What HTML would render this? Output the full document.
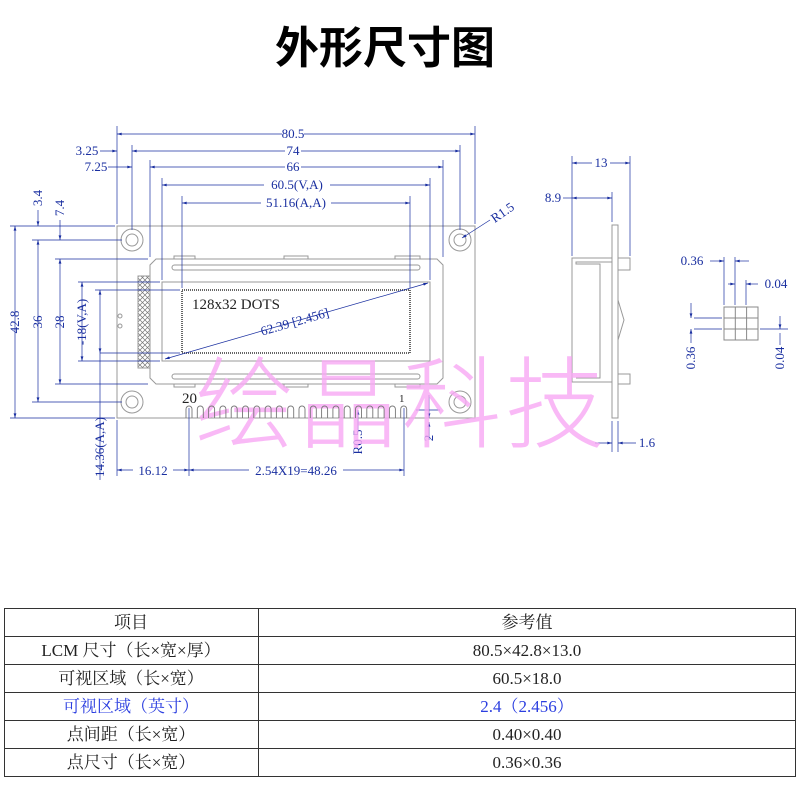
<!DOCTYPE html>
<html><head><meta charset="utf-8"><style>
html,body{margin:0;padding:0;background:#fff;}
svg{display:block;}
.d{font-family:"Liberation Serif",serif;font-size:13px;fill:#1a2fa0;}
.t{font-family:"Liberation Serif","Noto Serif CJK SC",serif;font-size:17px;fill:#222;}
</style></head><body>
<svg width="800" height="800" viewBox="0 0 800 800" xmlns="http://www.w3.org/2000/svg">
<defs>
<marker id="a" viewBox="0 0 10 6" refX="10" refY="3" markerWidth="8" markerHeight="4" orient="auto-start-reverse"><path d="M0,0 L10,3 L0,6z" fill="#1a2fa0"/></marker>
<pattern id="h" width="5" height="5" patternUnits="userSpaceOnUse"><path d="M0,0L5,5M5,0L0,5" stroke="#777" stroke-width="0.7"/></pattern>
</defs>
<text x="385" y="63" text-anchor="middle" font-family="'Noto Sans CJK SC',sans-serif" font-size="44" font-weight="700" fill="#000">外形尺寸图</text>

<g fill="none" stroke="#999" stroke-width="1">
<rect x="117" y="226" width="358" height="192"/>
<path d="M156,259 H437 L443,265 V378 L437,384 H156 L150,378 V265 Z"/>
<rect x="172" y="265" width="248" height="5" rx="2.5"/>
<rect x="172" y="374" width="248" height="5" rx="2.5"/>
<rect x="162" y="282" width="268" height="79"/>
<rect x="182" y="290" width="228" height="63" stroke="#666" stroke-width="2" stroke-dasharray="1 1"/>
<rect x="138" y="276" width="12" height="92" fill="url(#h)"/>
<circle cx="120" cy="316" r="2"/><circle cx="120" cy="326" r="2"/>
<circle cx="132" cy="240" r="11"/><circle cx="132" cy="240" r="6"/>
<circle cx="460" cy="240" r="11"/><circle cx="460" cy="240" r="6"/>
<circle cx="132" cy="402" r="11"/><circle cx="132" cy="402" r="6"/>
<circle cx="460" cy="402" r="11"/><circle cx="460" cy="402" r="6"/>
<path d="M174,259 V256 H195 V259 M284,259 V256 H308 V259 M395,259 V256 H420 V259"/>
<path d="M174,384 V387 H195 V384 M284,384 V387 H308 V384 M395,384 V387 H420 V384"/>
</g>
<text x="182" y="403" font-family="Liberation Serif,serif" font-size="15" fill="#222">20</text>
<text x="399" y="402" font-family="Liberation Serif,serif" font-size="11" fill="#222">1</text>
<text x="192" y="309" font-family="Liberation Serif,serif" font-size="15" fill="#222">128x32 DOTS</text>

<g stroke="#1a2fa0" stroke-width="0.7" fill="none">
<path d="M117,126V224 M475,126V224 M132,145V230 M460,145V230 M150,160V257 M443,160V257 M162,178V280 M430,178V280 M182,196V288 M410,196V288"/>
<path d="M10,226H115 M32,240H122 M55,259H148 M78,282H160 M95,290H180 M78,361H160 M10,418H115 M32,402H122 M55,384H148"/>
<path d="M117,420V476 M189,408V476 M404,408V476 M100,353H180 M416,410H440"/>
<line x1="117" y1="134" x2="475" y2="134" marker-start="url(#a)" marker-end="url(#a)"/>
<line x1="132" y1="151" x2="460" y2="151" marker-start="url(#a)" marker-end="url(#a)"/>
<line x1="100" y1="151" x2="117" y2="151" marker-end="url(#a)"/>
<line x1="150" y1="167" x2="443" y2="167" marker-start="url(#a)" marker-end="url(#a)"/>
<line x1="108" y1="167" x2="132" y2="167" marker-end="url(#a)"/>
<line x1="162" y1="185" x2="430" y2="185" marker-start="url(#a)" marker-end="url(#a)"/>
<line x1="182" y1="203" x2="410" y2="203" marker-start="url(#a)" marker-end="url(#a)"/>
<line x1="117" y1="470" x2="189" y2="470" marker-start="url(#a)" marker-end="url(#a)"/>
<line x1="189" y1="470" x2="404" y2="470" marker-start="url(#a)" marker-end="url(#a)"/>
<line x1="15" y1="226" x2="15" y2="418" marker-start="url(#a)" marker-end="url(#a)"/>
<line x1="38" y1="240" x2="38" y2="402" marker-start="url(#a)" marker-end="url(#a)"/>
<line x1="38" y1="210" x2="38" y2="226" marker-end="url(#a)"/>
<line x1="60" y1="259" x2="60" y2="384" marker-start="url(#a)" marker-end="url(#a)"/>
<line x1="60" y1="220" x2="60" y2="240" marker-end="url(#a)"/>
<line x1="82" y1="282" x2="82" y2="361" marker-start="url(#a)" marker-end="url(#a)"/>
<line x1="100" y1="290" x2="100" y2="353" marker-start="url(#a)" marker-end="url(#a)"/>
<line x1="100" y1="353" x2="100" y2="480"/>
<line x1="165" y1="359" x2="428" y2="283" marker-start="url(#a)" marker-end="url(#a)"/>
<line x1="462" y1="238" x2="490" y2="220" marker-start="url(#a)"/>
<line x1="358" y1="410" x2="358" y2="430" marker-start="url(#a)"/>
<line x1="429" y1="395" x2="429" y2="418" marker-end="url(#a)"/>
<line x1="429" y1="440" x2="429" y2="422" marker-end="url(#a)"/>
</g>
<g class="d" text-anchor="middle">
<rect x="282" y="127" width="22" height="14" fill="#fff"/><text x="293" y="138">80.5</text>
<rect x="285" y="144" width="16" height="14" fill="#fff"/><text x="293" y="155">74</text>
<rect x="285" y="160" width="16" height="14" fill="#fff"/><text x="293" y="171">66</text>
<rect x="264" y="178" width="66" height="14" fill="#fff"/><text x="297" y="189">60.5(V,A)</text>
<rect x="261" y="196" width="70" height="14" fill="#fff"/><text x="296" y="207">51.16(A,A)</text>
<text x="87" y="155">3.25</text><text x="96" y="171">7.25</text>
<rect x="133" y="464" width="40" height="14" fill="#fff"/><text x="153" y="475">16.12</text>
<rect x="249" y="464" width="94" height="14" fill="#fff"/><text x="296" y="475">2.54X19=48.26</text>
<text transform="translate(19,322) rotate(-90)">42.8</text>
<text transform="translate(42,322) rotate(-90)">36</text>
<text transform="translate(64,322) rotate(-90)">28</text>
<text transform="translate(86,322) rotate(-90)">-18(V,A)</text>
<text transform="translate(104,447) rotate(-90)">14.36(A,A)</text>
<text transform="translate(42,198) rotate(-90)">3.4</text>
<text transform="translate(64,208) rotate(-90)">7.4</text>
<text transform="translate(362,442) rotate(-90)">R0.5</text>
<text transform="translate(433,438) rotate(-90)">2</text>
<text transform="translate(505,216) rotate(-35)">R1.5</text>
<text transform="translate(296,326) rotate(-16)">62.39 [2.456]</text>
</g>

<g fill="none" stroke="#999">
<rect x="612" y="225" width="6" height="193"/>
<path d="M612,258 H572 V382 H612 M612,262 H576 V264 H600 V378 H576 M618,258 H630 V270 H618 M618,374 H630 V384 H618 M618,300 L624,320 L618,340"/>
</g>
<g stroke="#1a2fa0" stroke-width="0.7" fill="none">
<path d="M572,156V256 M630,156V256 M612,192V222 M612,421V452 M618,421V452"/>
<line x1="572" y1="163" x2="630" y2="163" marker-start="url(#a)" marker-end="url(#a)"/>
<line x1="563" y1="198" x2="572" y2="198"/>
<line x1="572" y1="198" x2="612" y2="198" marker-start="url(#a)" marker-end="url(#a)"/>
<line x1="595" y1="443" x2="612" y2="443" marker-end="url(#a)"/>
<line x1="636" y1="443" x2="618" y2="443" marker-end="url(#a)"/>
</g>
<g class="d" text-anchor="middle">
<rect x="592" y="156" width="18" height="14" fill="#fff"/><text x="601" y="167">13</text>
<text x="553" y="202">8.9</text><text x="647" y="447">1.6</text>
</g>
<g fill="none" stroke="#888">
<rect x="724" y="307" width="34" height="33"/>
<path d="M735.3,307V340 M746.6,307V340 M724,318H758 M724,329H758"/>
</g>
<g stroke="#1a2fa0" stroke-width="0.7" fill="none">
<path d="M724,257V305 M735,257V305 M746,280V305 M694,318H722 M694,329H722 M760,329H788"/>
<line x1="710" y1="261" x2="724" y2="261" marker-end="url(#a)"/>
<line x1="749" y1="261" x2="735" y2="261" marker-end="url(#a)"/>
<line x1="728" y1="284" x2="735" y2="284" marker-end="url(#a)"/>
<line x1="758" y1="284" x2="746" y2="284" marker-end="url(#a)"/>
<line x1="691" y1="303" x2="691" y2="318" marker-end="url(#a)"/>
<line x1="691" y1="343" x2="691" y2="329" marker-end="url(#a)"/>
<line x1="780" y1="316" x2="780" y2="329" marker-end="url(#a)"/>
<line x1="780" y1="345" x2="780" y2="333"/>
</g>
<g class="d" text-anchor="middle">
<text x="692" y="265">0.36</text><text x="776" y="288">0.04</text>
<text transform="translate(695,358) rotate(-90)">0.36</text>
<text transform="translate(784,358) rotate(-90)">0.04</text>
</g>

<text x="195" y="440" font-family="'Noto Sans CJK SC',sans-serif" font-size="100" font-weight="300" fill="#f8a8f4" fill-opacity="0.8" textLength="410">绘晶科技</text>

<g fill="none" stroke="#333" stroke-width="1">
<rect x="4.5" y="608.5" width="791" height="168"/>
<path d="M258.5,608V777 M4,636.5H796 M4,664.5H796 M4,692.5H796 M4,720.5H796 M4,748.5H796"/>
</g>
<g class="t" text-anchor="middle">
<text x="131" y="628">项目</text><text x="527" y="628">参考值</text>
<text x="131" y="656">LCM 尺寸（长×宽×厚）</text><text x="527" y="656">80.5×42.8×13.0</text>
<text x="131" y="684">可视区域（长×宽）</text><text x="527" y="684">60.5×18.0</text>
<text x="131" y="712" fill="#2b3ee0">可视区域（英寸）</text><text x="527" y="712" fill="#2b3ee0">2.4（2.456）</text>
<text x="131" y="740">点间距（长×宽）</text><text x="527" y="740">0.40×0.40</text>
<text x="131" y="768">点尺寸（长×宽）</text><text x="527" y="768">0.36×0.36</text>
</g>
<g fill="none" stroke="#777" stroke-width="0.9">
<path d="M186,418V409a3,3 0 0 1 6,0V418 M197.3,418V409a3,3 0 0 1 6,0V418 M208.6,418V409a3,3 0 0 1 6,0V418 M219.9,418V409a3,3 0 0 1 6,0V418 M231.2,418V409a3,3 0 0 1 6,0V418 M242.5,418V409a3,3 0 0 1 6,0V418 M253.8,418V409a3,3 0 0 1 6,0V418 M265.1,418V409a3,3 0 0 1 6,0V418 M276.4,418V409a3,3 0 0 1 6,0V418 M287.7,418V409a3,3 0 0 1 6,0V418 M299,418V409a3,3 0 0 1 6,0V418 M310.3,418V409a3,3 0 0 1 6,0V418 M321.6,418V409a3,3 0 0 1 6,0V418 M332.9,418V409a3,3 0 0 1 6,0V418 M344.2,418V409a3,3 0 0 1 6,0V418 M355.5,418V409a3,3 0 0 1 6,0V418 M366.8,418V409a3,3 0 0 1 6,0V418 M378.1,418V409a3,3 0 0 1 6,0V418 M389.4,418V409a3,3 0 0 1 6,0V418 M400.7,418V409a3,3 0 0 1 6,0V418"/>
</g>
</svg>
</body></html>
